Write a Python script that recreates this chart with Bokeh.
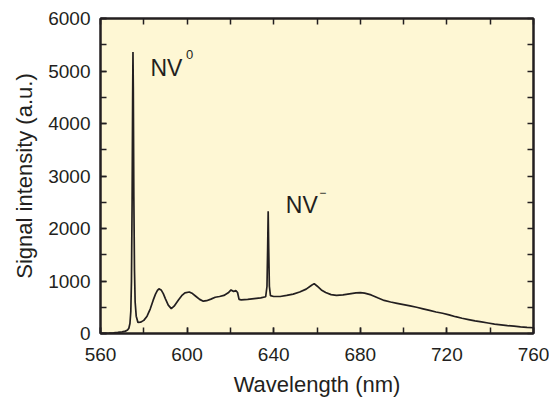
import numpy as np
from bokeh.plotting import figure
from bokeh.models import LinearAxis, FixedTicker, Label, Title
from bokeh.embed import file_html
from bokeh.resources import INLINE

# ---- data ----
wavelength = [560, 564, 566, 568, 570, 571.5, 572.5, 573.1, 573.6, 574.0, 574.3, 574.6, 574.85, 575.0,
              575.15, 575.4, 575.7, 576.0, 576.5, 577.3, 578.5, 580, 581.5, 583, 584.3, 585.4, 586.3,
              587, 588, 589, 590, 591.3, 592.7, 594, 596, 597.5, 599, 601, 602.5, 604, 605.8, 607.5,
              609, 611, 613, 615, 617, 619, 620.3, 621.5, 622.5, 623.3, 624, 625, 628, 631, 634,
              636.3, 636.9, 637.2, 637.45, 637.7, 638.0, 638.5, 640, 643, 646, 649, 652, 655, 657.5,
              658.7, 660, 662, 664, 666.5, 669, 672, 675, 678, 680, 682, 685, 688, 691, 694, 697,
              700, 703, 706, 709, 712, 715, 718, 721, 724, 727, 730, 733, 736, 739, 742, 745, 748,
              751, 754, 757, 760]
intensity = [5, 8, 12, 20, 30, 45, 65, 100, 190, 420, 1000, 2500, 4500, 5360,
             4700, 2600, 1200, 600, 330, 210, 215, 250, 330, 470, 630, 750, 820,
             850, 830, 760, 660, 540, 475, 520, 640, 720, 775, 790, 760, 710, 650, 615,
             625, 655, 690, 705, 725, 775, 830, 800, 820, 780, 650, 640, 650, 665, 680,
             700, 900, 1600, 2330, 1600, 900, 720, 705, 705, 725, 750, 790, 845, 920,
             950, 905, 830, 780, 740, 725, 735, 755, 775, 780, 770, 735, 680, 630, 600, 575,
             550, 525, 500, 470, 440, 410, 385, 355, 320, 290, 265, 240, 220, 200, 180, 165, 150,
             140, 128, 118, 110]

x_ticks = [560, 600, 640, 680, 720, 760]
y_ticks = [0, 1000, 2000, 3000, 4000, 5000, 6000]

FONT = "Liberation Sans"
INK = "#231F20"

p = figure(width=549, height=399, x_range=(560, 760), y_range=(0, 6000),
           output_backend="svg", toolbar_location=None,
           min_border_left=100, min_border_right=16, min_border_top=18, min_border_bottom=64)
p.background_fill_color = "#FEF7D4"
p.border_fill_color = "white"
p.grid.visible = False
p.outline_line_color = INK
p.outline_line_width = 2

p.line(wavelength, intensity, line_color=INK, line_width=1.7)

def style(ax):
    ax.axis_line_color = INK
    ax.axis_line_width = 2
    ax.major_tick_line_color = INK
    ax.minor_tick_line_color = INK
    ax.major_tick_line_width = 1.5
    ax.minor_tick_line_width = 1.5
    ax.major_tick_in = 6
    ax.major_tick_out = 0
    ax.minor_tick_in = 6
    ax.minor_tick_out = 0
    ax.major_label_text_font = FONT
    ax.major_label_text_font_size = "19px"
    ax.major_label_text_color = INK
    ax.axis_label_text_font = FONT
    ax.axis_label_text_font_size = "22px"
    ax.axis_label_text_font_style = "normal"
    ax.axis_label_text_color = INK

xa = p.xaxis[0]
xa.ticker = FixedTicker(ticks=x_ticks, minor_ticks=list(np.arange(560, 761, 20)))
style(xa)
xa.axis_label = "Wavelength (nm)"
xa.major_label_standoff = 14
xa.axis_label_standoff = 8

ya = p.yaxis[0]
ya.ticker = FixedTicker(ticks=y_ticks, minor_ticks=list(np.arange(0, 6001, 500)))
style(ya)
ya.major_label_standoff = 10

top = LinearAxis(ticker=FixedTicker(ticks=[], minor_ticks=list(np.arange(560, 761, 20))))
style(top)
top.major_label_standoff = 0
p.add_layout(top, "above")
right = LinearAxis(ticker=FixedTicker(ticks=[], minor_ticks=list(np.arange(0, 6001, 500))))
style(right)
right.major_label_standoff = 0
p.add_layout(right, "right")

# y-axis title (shifted upward as in the reference)
p.add_layout(Title(text="Signal intensity (a.u.)", align="center", offset=18, standoff=18,
                   text_font=FONT, text_font_size="22px", text_font_style="normal",
                   text_color=INK), "left")

p.add_layout(Label(x=583.1, y=5060, text="NV", text_font=FONT, text_font_size="23px",
                   text_color=INK, text_baseline="alphabetic"))
p.add_layout(Label(x=599.5, y=5400, text="0", text_font=FONT, text_font_size="13px",
                   text_color=INK, text_baseline="top"))
p.add_layout(Label(x=645.6, y=2450, text="NV", text_font=FONT, text_font_size="23px",
                   text_color=INK, text_baseline="alphabetic"))
p.add_layout(Label(x=661.0, y=2690, text="\u2212", text_font=FONT, text_font_size="12px",
                   text_color=INK, text_baseline="middle"))

open("out.html", "w").write(file_html(p, INLINE))
